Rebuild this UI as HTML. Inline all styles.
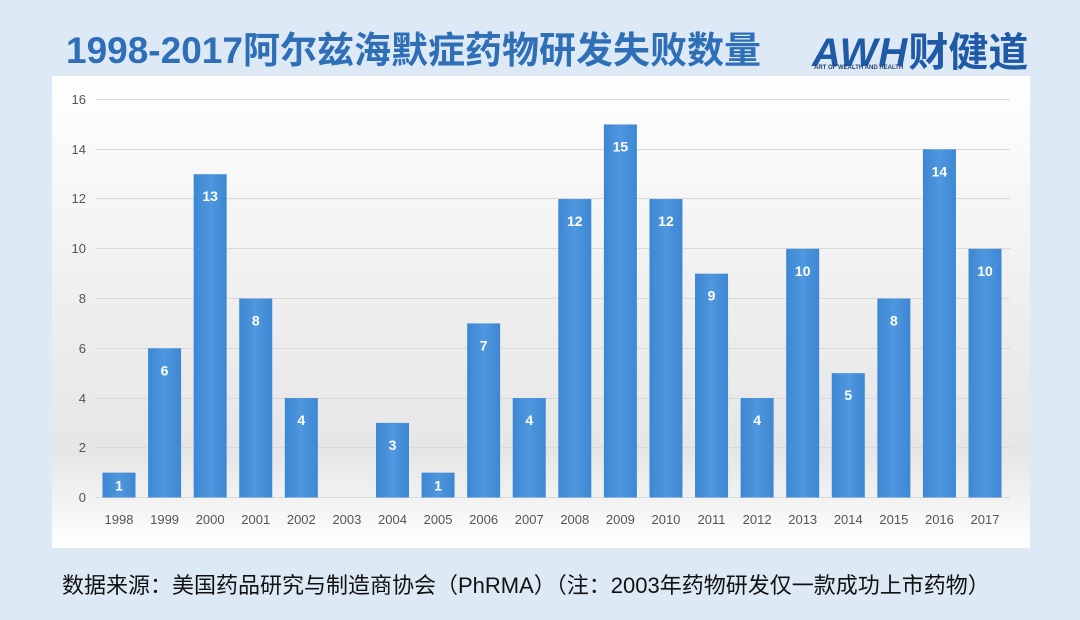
<!DOCTYPE html>
<html><head><meta charset="utf-8"><style>
html,body{margin:0;padding:0;}
body{width:1080px;height:620px;background:#dde9f5;position:relative;overflow:hidden;font-family:"Liberation Sans","Noto Sans CJK SC",sans-serif;}
.title{position:absolute;left:66px;top:20px;font-size:37px;font-weight:bold;color:#2e6fb8;white-space:nowrap;}
.logo{position:absolute;left:812px;top:20px;font-size:40px;font-weight:bold;color:#1f5aa8;white-space:nowrap;}
.logo small{position:absolute;left:2px;top:45px;font-size:6px;color:#1f3f70;white-space:nowrap;}
.foot{position:absolute;left:62px;top:568px;font-size:22px;color:#111;white-space:nowrap;}
</style></head><body>
<div class="title">1998-2017阿尔兹海默症药物研发失败数量</div>
<div class="logo"><span style="font-style:italic;letter-spacing:1px">AWH</span>财健道<small>ART OF WEALTH AND HEALTH</small></div>
<svg style="position:absolute;left:0;top:0" width="1080" height="620">
<defs><linearGradient id="bg" x1="0" y1="0" x2="0" y2="1">
<stop offset="0" stop-color="#ffffff"/><stop offset="0.5" stop-color="#eeeeee"/><stop offset="0.8" stop-color="#e6e6e6"/><stop offset="1" stop-color="#ffffff"/></linearGradient>
<linearGradient id="bar" x1="0" y1="0" x2="1" y2="0"><stop offset="0" stop-color="#3d87d3"/><stop offset="0.5" stop-color="#4f97de"/><stop offset="1" stop-color="#3d87d3"/></linearGradient></defs>
<rect x="52" y="76" width="978" height="472" fill="url(#bg)"/>
<g stroke="#d9d9d9" stroke-width="1">
<line x1="96" x2="1010" y1="99.5" y2="99.5"/><line x1="96" x2="1010" y1="149.5" y2="149.5"/><line x1="96" x2="1010" y1="198.5" y2="198.5"/><line x1="96" x2="1010" y1="248.5" y2="248.5"/><line x1="96" x2="1010" y1="298.5" y2="298.5"/><line x1="96" x2="1010" y1="348.5" y2="348.5"/><line x1="96" x2="1010" y1="398.5" y2="398.5"/><line x1="96" x2="1010" y1="447.5" y2="447.5"/><line x1="96" x2="1010" y1="497.5" y2="497.5"/>
</g>
<g font-size="13" fill="#555" text-anchor="end">
<text x="86" y="104">16</text><text x="86" y="154">14</text><text x="86" y="203">12</text><text x="86" y="253">10</text><text x="86" y="303">8</text><text x="86" y="353">6</text><text x="86" y="403">4</text><text x="86" y="452">2</text><text x="86" y="502">0</text>
</g>
<g id="bars"></g>
</svg>
<div class="foot">数据来源：美国药品研究与制造商协会（PhRMA）（注：2003年药物研发仅一款成功上市药物）</div>
<script>
var v=[1,6,13,8,4,0,3,1,7,4,12,15,12,9,4,10,5,8,14,10];
var g=document.getElementById('bars'),s='';
for(var i=0;i<20;i++){var cx=119+i*45.58,h=v[i]*24.87,y=497.5-h;
s+='<rect x="'+(cx-16.5)+'" y="'+y+'" width="33" height="'+h+'" fill="url(#bar)"/>';
s+='<text x="'+cx+'" y="'+(v[i]==0?484:(v[i]==1?y+18:y+27))+'" font-size="14" font-weight="bold" fill="'+(v[i]==0?'#eee':'#fff')+'" text-anchor="middle">'+v[i]+'</text>';
s+='<text x="'+cx+'" y="524" font-size="13" fill="#555" text-anchor="middle">'+(1998+i)+'</text>';}
g.innerHTML=s;
</script>
</body></html>
